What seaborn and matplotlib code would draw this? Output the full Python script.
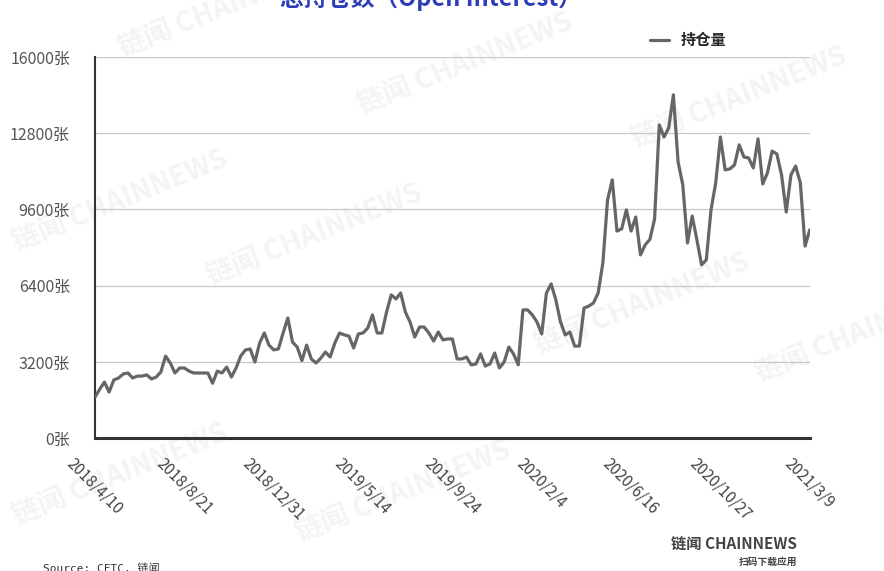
import numpy as np
import pandas as pd
import matplotlib
matplotlib.use("Agg")
import matplotlib.pyplot as plt
import seaborn as sns

# weekly open interest (contracts), 2018/4/10 .. 2021/3/9
open_interest = [
    1720, 2050, 2350, 1930, 2440, 2520, 2690, 2730, 2520, 2600,
    2600, 2650, 2480, 2560, 2770, 3440, 3150, 2730, 2940, 2940,
    2810, 2730, 2730, 2730, 2730, 2300, 2810, 2730, 2980, 2560,
    2940, 3450, 3700, 3740, 3190, 3990, 4410, 3900, 3700, 3740,
    4410, 5040, 4030, 3820, 3250, 3900, 3320, 3150, 3350, 3610,
    3400, 3990, 4410, 4330, 4280, 3780, 4370, 4410, 4620, 5170,
    4410, 4410, 5290, 6010, 5840, 6090, 5290, 4870, 4240, 4660,
    4660, 4410, 4070, 4450, 4120, 4160, 4160, 3320, 3320, 3400,
    3070, 3110, 3530, 3020, 3110, 3570, 2940, 3190, 3820, 3530,
    3070, 5380, 5380, 5170, 4870, 4370, 6090, 6470, 5800, 4870,
    4330, 4450, 3860, 3860, 5460, 5540, 5670, 6090, 7350, 10000,
    10840, 8690, 8780, 9580, 8690, 9280, 7690, 8110, 8340, 9200,
    13150, 12640, 13020, 14410, 11590, 10630, 8190, 9320, 8320, 7270,
    7480, 9580, 10710, 12640, 11260, 11300, 11470, 12310, 11800, 11760,
    11340, 12560, 10670, 11130, 12050, 11930, 11050, 9490, 11050, 11420,
    10710, 8060, 8740,
]
tick_labels = ["2018/4/10", "2018/8/21", "2018/12/31", "2019/5/14", "2019/9/24",
               "2020/2/4", "2020/6/16", "2020/10/27", "2021/3/9"]
y_ticks = [0, 3200, 6400, 9600, 12800, 16000]

sns.set_style("white")
plt.rcParams["font.family"] = ["Noto Sans CJK SC", "DejaVu Sans"]

LINE = "#666666"
BLUE = "#2d3db8"

df = pd.DataFrame({"week": np.arange(len(open_interest)), "持仓量": open_interest})

fig = plt.figure(figsize=(8.84, 5.71), dpi=100)
ax = fig.add_axes([0.1075, 0.2329, 0.8085, 0.6673])
ax.set_zorder(1)

# very faint watermarks behind everything
wm = [(0.13, 0.90), (0.40, 0.80), (0.01, 0.56), (0.23, 0.50), (0.71, 0.74),
      (0.60, 0.38), (0.85, 0.33), (0.01, 0.08), (0.33, 0.05)]
for wx, wy in wm:
    fig.text(wx, wy, "链闻 CHAINNEWS", rotation=22, fontsize=20, fontweight="bold",
             color="#f4f4f4", zorder=-1)

sns.lineplot(data=df, x="week", y="持仓量", ax=ax, color=LINE, lw=2.3,
             label="持仓量", zorder=3)

ax.set_xlim(0, len(open_interest) - 1)
ax.set_ylim(0, 16000)
ax.set_yticks(y_ticks)
ax.set_yticklabels([f"{v}张" for v in y_ticks], fontsize=11.5, color="#555555")
ax.set_xticks(np.arange(len(tick_labels)) * 19)
ax.set_xticklabels(tick_labels, rotation=-45, ha="center", va="top",
                   fontsize=11, color="#444444")
ax.tick_params(axis="y", length=0, pad=18)
ax.tick_params(axis="x", length=0, pad=12)
ax.grid(True, axis="y", color="#c8c8c8", lw=0.9)
ax.set_xlabel("")
ax.set_ylabel("")
ax.set_facecolor("none")
for side in ["top", "right"]:
    ax.spines[side].set_visible(False)
ax.spines["left"].set_color("#333333")
ax.spines["left"].set_linewidth(1.5)
ax.spines["bottom"].set_color("#333333")
ax.spines["bottom"].set_linewidth(2.2)

leg = ax.legend(loc="center left", bbox_to_anchor=(0.72, 0.93),
                bbox_transform=fig.transFigure, frameon=False,
                handlelength=1.2, handletextpad=0.8, prop={"size": 11, "weight": "bold"})

fig.text(0.487, 1.003, "总持仓数（Open Interest）", ha="center", va="center",
         fontsize=17, fontweight="bold", color=BLUE)
fig.text(43 / 884, 1 - 563 / 571, "Source: CFTC, 链闻", ha="left", va="top",
         fontsize=8, color="#333333", family=["DejaVu Sans Mono", "Noto Sans CJK SC"])
fig.text(797 / 884, 1 - 545 / 571, "链闻 CHAINNEWS", ha="right", va="center",
         fontsize=11, fontweight="bold", color="#444444")
fig.text(797 / 884, 1 - 562 / 571, "扫码下载应用", ha="right", va="center",
         fontsize=7, fontweight="bold", color="#444444")

fig.savefig("out.png", dpi=100)
